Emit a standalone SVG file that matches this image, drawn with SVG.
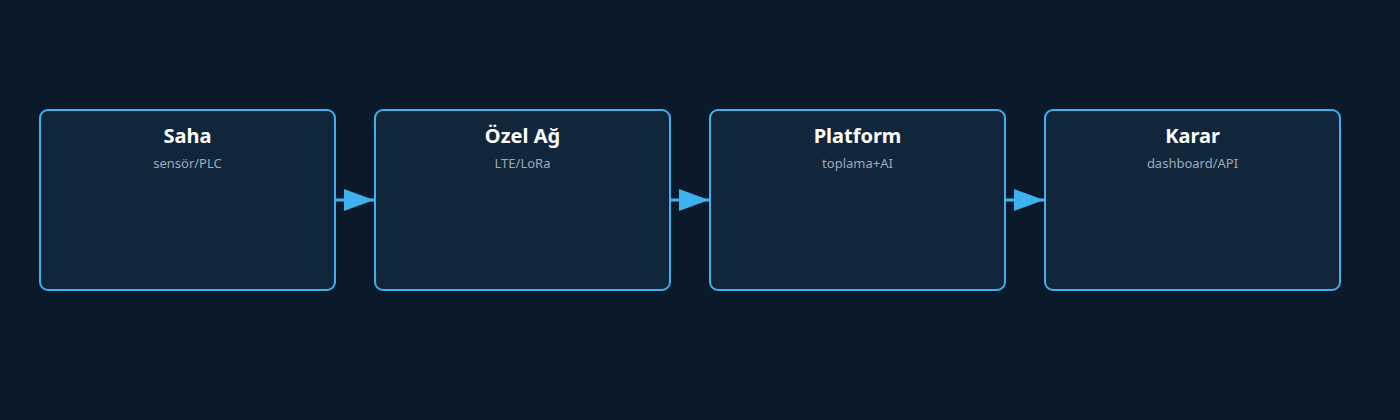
<svg xmlns="http://www.w3.org/2000/svg" width="1400" height="420" viewBox="0 0 1400 420">
<style>
.box{fill:#12263b;stroke:#3eb1ee;stroke-width:2}
.t{font-family:"Noto Sans",sans-serif;font-weight:bold;font-size:20px;fill:#ffffff;text-anchor:middle}
.s{font-family:"Noto Sans",sans-serif;font-size:13px;fill:#9aabbd;text-anchor:middle}
.c{stroke:#3eb1ee;stroke-width:3;fill:none}
</style>
<defs><marker id="a" markerUnits="userSpaceOnUse" markerWidth="30" markerHeight="22" refX="30" refY="11" orient="auto"><path d="M0,0L30,11L0,22Z" fill="#3eb1ee"/></marker></defs>
<rect width="1400" height="420" fill="#0b1a2b"/>
<g id="n1"><rect class="box" x="40" y="110" width="295" height="180" rx="8"/><text class="t" x="187.5" y="143">Saha</text><text class="s" x="187.5" y="168">sensör/PLC</text></g>
<g id="n2"><rect class="box" x="375" y="110" width="295" height="180" rx="8"/><text class="t" x="522.5" y="143">Özel Ağ</text><text class="s" x="522.5" y="168">LTE/LoRa</text></g>
<g id="n3"><rect class="box" x="710" y="110" width="295" height="180" rx="8"/><text class="t" x="857.5" y="143">Platform</text><text class="s" x="857.5" y="168">toplama+AI</text></g>
<g id="n4"><rect class="box" x="1045" y="110" width="295" height="180" rx="8"/><text class="t" x="1192.5" y="143">Karar</text><text class="s" x="1192.5" y="168">dashboard/API</text></g>
<g id="edges">
<line class="c" x1="336" y1="200" x2="374" y2="200" marker-end="url(#a)"/>
<line class="c" x1="671" y1="200" x2="709" y2="200" marker-end="url(#a)"/>
<line class="c" x1="1006" y1="200" x2="1044" y2="200" marker-end="url(#a)"/>
</g>
</svg>
